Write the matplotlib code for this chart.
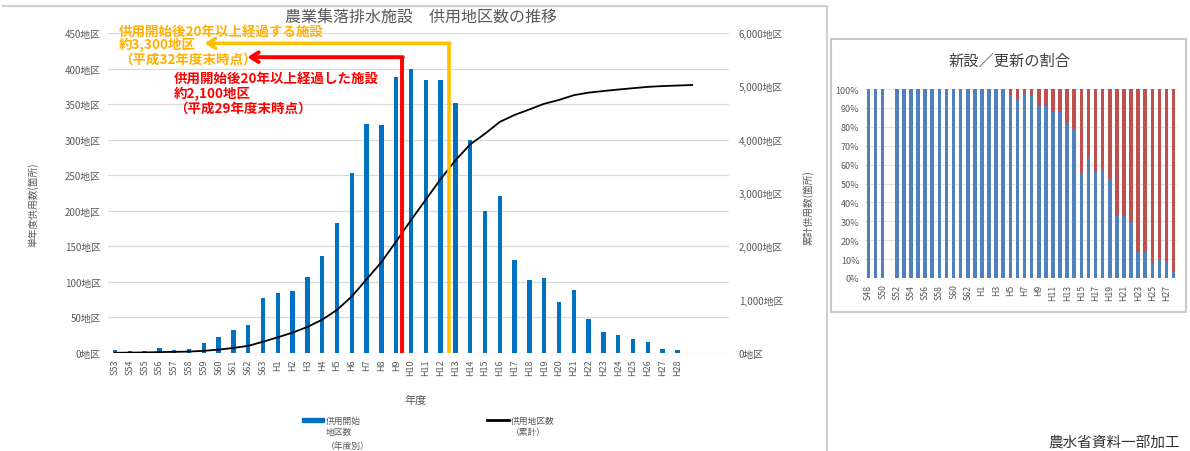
import matplotlib
matplotlib.use("Agg")
import matplotlib.pyplot as plt
from matplotlib.lines import Line2D
from matplotlib.patches import Rectangle
import numpy as np

plt.rcParams["font.family"] = ["Noto Sans CJK JP", "DejaVu Sans"]

W, H = 1190, 452

# 年度別の供用開始地区数
years = ["S53", "S54", "S55", "S56", "S57", "S58", "S59", "S60", "S61", "S62", "S63"] + \
        [f"H{i}" for i in range(1, 29)]
new_districts = [4, 3, 3, 7, 4, 6, 14, 22, 32, 39, 77,
                 84, 87, 107, 136, 183, 253, 322, 321, 388, 400,
                 384, 384, 352, 300, 200, 221, 131, 103, 106, 72,
                 89, 48, 30, 26, 19, 16, 6, 4]
# 供用地区数の累計（最後の点は H28 の右）
cumulative = [4, 7, 10, 17, 21, 27, 41, 63, 95, 134, 211,
              295, 382, 489, 625, 808, 1061, 1383, 1704, 2092, 2492,
              2876, 3260, 3612, 3912, 4112, 4333, 4464, 4567, 4673, 4745,
              4834, 4882, 4912, 4940, 4965, 4990, 5005, 5015, 5025]

# 新設／更新の割合 (%)
share_years = [f"S{i}" for i in range(48, 64)] + [f"H{i}" for i in range(1, 29)]
new_share = [100, 100, 100, 0, 100, 100, 100, 100, 100, 100, 100, 100, 100, 100, 100, 100,
             100, 100, 100, 100, 96.2, 94.7, 97.4, 96.2, 91.2, 90.9, 88.0, 88.0, 82.0, 78.9,
             55.7, 63.8, 56.2, 57.2, 52.5, 33.0, 32.8, 30.3, 13.5, 13.5, 7.3, 9.9, 9.2, 3.2]
renew_share = [0, 0, 0, 0, 0, 0, 0, 0, 0, 0, 0, 0, 0, 0, 0, 0,
               0, 0, 0, 0, 3.8, 5.3, 2.6, 3.8, 8.8, 9.1, 12.0, 12.0, 18.0, 21.1,
               44.3, 36.2, 43.8, 42.8, 47.5, 67.0, 67.2, 69.7, 86.5, 86.5, 92.7, 90.1, 90.8, 96.8]

GRAY = "#595959"


def fx(px):
    return px / W


def fy(py):
    return 1 - py / H


fig = plt.figure(figsize=(W / 100, H / 100), dpi=100)

# --- 左：供用地区数の推移 ---
ax = fig.add_axes([fx(107.6), fy(354), (729.2 - 107.6) / W, (354 - 34) / H])
x = np.arange(len(years))
ax.bar(x, new_districts, width=0.3, color="#0070C0", zorder=2)
ax.set_xlim(-0.5, 41.5)
ax.set_ylim(0, 450)
ax.set_yticks(range(0, 451, 50))
ax.set_yticklabels([f"{v}地区" for v in range(0, 451, 50)], fontsize=7, color=GRAY)
ax.set_xticks(x)
ax.set_xticklabels(years, rotation=90, fontsize=6.5, color=GRAY)
ax.grid(axis="y", color="#D9D9D9", linewidth=0.9)
ax.set_axisbelow(True)
ax.tick_params(length=0, pad=5)
ax.tick_params(axis="x", pad=4)
for s in ax.spines.values():
    s.set_visible(False)

ax2 = ax.twinx()
ax2.plot(np.arange(len(cumulative)), cumulative, color="black", linewidth=1.3, zorder=3)
ax2.set_ylim(0, 6000)
ax2.set_yticks(range(0, 6001, 1000))
ax2.set_yticklabels([f"{v:,}地区" for v in range(0, 6001, 1000)], fontsize=7, color=GRAY)
ax2.tick_params(length=0, pad=7)
for s in ax2.spines.values():
    s.set_visible(False)

# 20年経過の目安線と矢印
red, orange = "#FF0000", "#FFC000"
ax2.plot([19.38, 19.38], [0, 416 * 6000 / 450], color=red, linewidth=2.8, zorder=4,
         solid_capstyle="butt")
ax2.plot([22.55, 22.55], [0, 435.5 * 6000 / 450], color=orange, linewidth=2.6, zorder=4,
         solid_capstyle="butt")
ax.annotate("", xy=(8.95, 416), xytext=(19.45, 416), zorder=5,
            arrowprops=dict(arrowstyle="->,head_length=0.55,head_width=0.35",
                            color=red, linewidth=2.8, shrinkA=0, shrinkB=0))
ax.annotate("", xy=(6.05, 435.5), xytext=(22.62, 435.5), zorder=5,
            arrowprops=dict(arrowstyle="->,head_length=0.55,head_width=0.35",
                            color=orange, linewidth=2.6, shrinkA=0, shrinkB=0))

orange_lines = [("供用開始後20年以上経過する施設", 32), ("約3,300地区", 45), ("（平成32年度末時点）", 60)]
for t, py in orange_lines:
    fig.text(fx(119), fy(py), t, fontsize=9.7, color="#FFB000", fontweight="bold",
             ha="left", va="center")
red_lines = [("供用開始後20年以上経過した施設", 79), ("約2,100地区", 93.5), ("（平成29年度末時点）", 108.5)]
for t, py in red_lines:
    fig.text(fx(174), fy(py), t, fontsize=9.7, color=red, fontweight="bold",
             ha="left", va="center")

fig.text(fx(421), fy(18), "農業集落排水施設　供用地区数の推移", fontsize=11.5, color=GRAY,
         ha="center", va="center")
fig.text(fx(33), fy(205), "単年度供用数(箇所)", fontsize=7, color=GRAY, rotation=90,
         ha="center", va="center")
fig.text(fx(808), fy(208), "累計供用数(箇所)", fontsize=7, color=GRAY, rotation=90,
         ha="center", va="center")
fig.text(fx(416), fy(401), "年度", fontsize=8, color=GRAY, ha="center", va="center")

# 凡例
fig.add_artist(Rectangle((fx(302), fy(423)), (324 - 302) / W, 4 / H, color="#0070C0"))
for t, py in [("供用開始", 421), ("地区数", 433), ("（年度別）", 446)]:
    fig.text(fx(326), fy(py), t, fontsize=6.3, color=GRAY, ha="left", va="center")
fig.add_artist(Line2D([fx(487), fx(509)], [fy(421), fy(421)], color="black", linewidth=2))
for t, py in [("供用地区数", 421), ("（累計）", 433)]:
    fig.text(fx(511), fy(py), t, fontsize=6.3, color=GRAY, ha="left", va="center")

# 枠線
fig.add_artist(Line2D([fx(3), fx(827)], [fy(7), fy(7)], color="#D0D0D0", linewidth=1.5))
fig.add_artist(Line2D([fx(827), fx(827)], [fy(7), fy(452)], color="#D0D0D0", linewidth=1.5))

# --- 右：新設／更新の割合 ---
ax3 = fig.add_axes([fx(864.8), fy(279), (1177.2 - 864.8) / W, (279 - 90) / H])
sx = np.arange(len(share_years))
ax3.bar(sx, new_share, width=0.5, color="#4F81BD", zorder=2)
ax3.bar(sx, renew_share, width=0.5, bottom=new_share, color="#C0504D", zorder=2)
ax3.set_xlim(-0.5, 43.5)
ax3.set_ylim(0, 100)
ax3.set_yticks(range(0, 101, 10))
ax3.set_yticklabels([f"{v}%" for v in range(0, 101, 10)], fontsize=6.5, color=GRAY)
ax3.set_xticks(sx[::2])
ax3.set_xticklabels(share_years[::2], rotation=90, fontsize=6.3, color=GRAY)
ax3.grid(axis="y", color="#E3E3E3", linewidth=0.8)
ax3.set_axisbelow(True)
ax3.tick_params(length=0, pad=4)
for s in ax3.spines.values():
    s.set_visible(False)

fig.text(fx(1010), fy(61), "新設／更新の割合", fontsize=11, color="#404040",
         ha="center", va="center")
fig.add_artist(Rectangle((fx(830.5), fy(313)), (1186 - 830.5) / W, (313 - 40) / H,
                         fill=False, edgecolor="#C8C8C8", linewidth=1.5))

fig.text(fx(1180), fy(443), "農水省資料一部加工", fontsize=10.5, color="#333333",
         ha="right", va="center")

fig.savefig("out.png", dpi=100)
